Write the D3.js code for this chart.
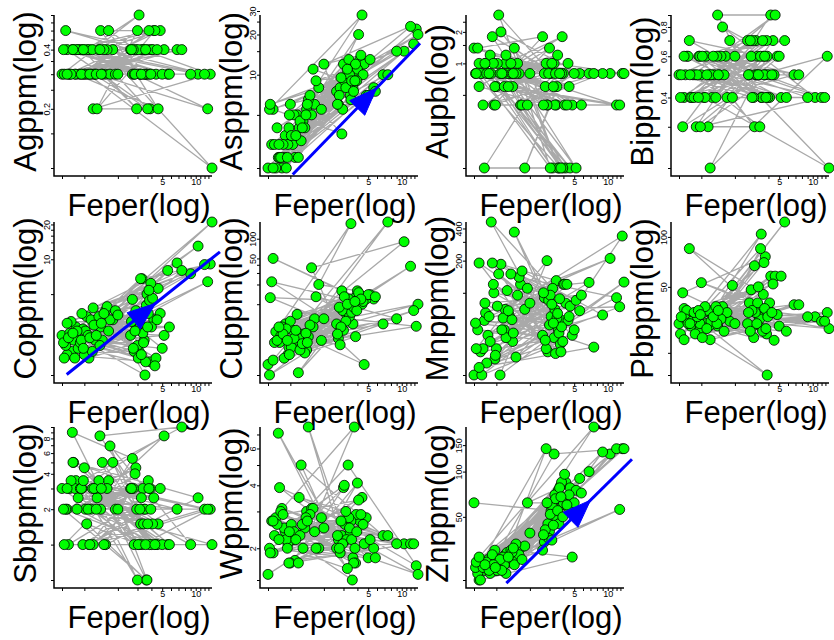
<!DOCTYPE html>
<html>
<head>
<meta charset="utf-8">
<script src="https://cdn.jsdelivr.net/npm/d3@7"></script>
<style>
  body { margin: 0; background: #fff; }
  svg { display: block; }
</style>
</head>
<body>
<div id="chart"></div>
<script>
// Fe (percent) of every sample, in sample order; the grey lines follow this order
const fePct = [
  0.63, 3.1, 1.05, 3.6, 0.78, 2.7, 1.4, 4.2,
  0.9, 3.3, 13.5, 1.2, 3.9, 0.7, 2.9, 1.65,
  4.6, 0.84, 3.45, 1.1, 5.6, 0.95, 3.0, 1.3,
  3.75, 0.68, 2.6, 1.55, 10.5, 0.8, 3.2, 1.0,
  4.0, 1.8, 3.5, 0.74, 2.8, 1.25, 6.8, 0.88,
  3.35, 1.15, 4.4, 0.65, 3.65, 1.45, 2.95, 0.97,
  12.0, 1.6, 3.05, 0.72, 4.8, 1.35, 3.85, 0.82,
  2.75, 1.02, 5.2, 0.92, 3.4, 1.7, 9.0, 0.76,
  3.15, 1.18, 4.1, 0.86, 3.55, 1.5, 14.0, 1.08,
  2.85, 0.66, 4.5, 1.22, 3.7, 1.9, 5.0, 0.94,
  3.25, 1.38, 7.5, 0.7, 3.95, 1.12, 2.65, 2.0,
  4.3, 0.98, 12.8, 1.28, 3.8, 0.79, 5.8, 1.42
];

const agPpm = [
  0.3, 0.6, 0.4, 0.3, 0.4, 0.3, 0.5, 0.5,
  0.3, 0.4, 0.3, 0.2, 0.2, 0.4, 0.4, 0.5,
  0.2, 0.3, 0.4, 0.4, 0.3, 0.3, 0.5, 0.2,
  0.4, 0.5, 0.4, 0.3, 0.3, 0.4, 0.3, 0.3,
  0.4, 0.4, 0.3, 0.3, 0.3, 0.3, 0.4, 0.4,
  0.4, 0.3, 0.3, 0.4, 0.3, 0.3, 0.2, 0.4,
  0.3, 0.4, 0.4, 0.3, 0.5, 0.4, 0.3, 0.3,
  0.4, 0.3, 0.4, 0.4, 0.3, 0.3, 0.3, 0.3,
  0.3, 0.4, 0.4, 0.4, 0.4, 0.4, 0.1, 0.3,
  0.3, 0.3, 0.4, 0.3, 0.2, 0.3, 0.3, 0.3,
  0.3, 0.4, 0.4, 0.3, 0.3, 0.3, 0.4, 0.3,
  0.5, 0.4, 0.2, 0.3, 0.5, 0.4, 0.3, 0.3
];

const asPpm = [
  2.0, 9, 3.0, 11, 2.4, 6, 5.5, 13,
  3.5, 8, 22, 4, 10, 5.5, 3.6, 6,
  12, 2.0, 7, 2.4, 8, 3.0, 12, 4.5,
  9, 3.0, 7.5, 5, 15, 2.4, 10, 6,
  11, 8, 6.5, 2.0, 8, 3.2, 10, 2.4,
  13, 5, 28, 5.5, 8, 6.5, 5.5, 4,
  23, 11, 9, 3.0, 7, 4, 12, 2.4,
  7, 3.5, 13, 2.0, 10, 9, 15, 4,
  8, 2.4, 20, 3.0, 9, 7, 20, 5,
  9.5, 6, 10, 4.5, 7.5, 5.5, 7, 2.4,
  11, 5, 10, 2.0, 9, 3.5, 6, 12,
  14, 5, 17, 4, 9, 3.0, 7.5, 6
];

const auPpb = [
  1.4, 0.8, 2.9, 0.1, 0.1, 0.8, 0.6, 0.1,
  0.8, 1.0, 0.8, 1.0, 1.8, 0.6, 0.4, 0.4,
  0.1, 0.8, 0.4, 2.0, 0.8, 0.4, 1.4, 0.8,
  0.8, 1.4, 1.8, 1.0, 0.8, 1.0, 0.1, 0.6,
  0.8, 0.1, 0.6, 0.8, 1.0, 0.8, 0.8, 1.2,
  0.4, 0.8, 1.0, 0.8, 0.1, 1.4, 0.8, 0.6,
  0.4, 0.8, 0.1, 0.8, 0.4, 1.0, 0.8, 0.8,
  0.6, 1.0, 0.1, 1.8, 0.8, 0.4, 0.8, 0.4,
  1.0, 0.6, 0.4, 0.8, 1.2, 0.8, 0.8, 0.8,
  0.4, 0.8, 0.6, 1.2, 0.8, 0.4, 0.8, 1.0,
  0.6, 0.8, 0.8, 1.0, 0.1, 0.8, 0.4, 0.8,
  0.4, 0.4, 0.4, 0.6, 0.1, 1.0, 0.4, 0.8
];

const biPpm = [
  0.5, 0.7, 0.4, 0.6, 0.7, 0.5, 0.9, 0.9,
  0.3, 0.5, 0.6, 0.2, 0.6, 0.4, 0.7, 0.6,
  0.9, 0.5, 0.4, 0.6, 0.7, 0.6, 0.3, 0.5,
  0.5, 0.3, 0.7, 0.8, 0.4, 0.4, 0.6, 0.5,
  0.5, 0.7, 0.4, 0.6, 0.6, 0.4, 0.5, 0.5,
  0.3, 0.3, 0.7, 0.4, 0.5, 0.5, 0.4, 0.6,
  0.4, 0.5, 0.5, 0.5, 0.6, 0.4, 0.7, 0.4,
  0.7, 0.6, 0.4, 0.5, 0.6, 0.4, 0.4, 0.6,
  0.5, 0.5, 0.4, 0.4, 0.7, 0.6, 0.2, 0.4,
  0.4, 0.5, 0.5, 0.5, 0.6, 0.4, 0.6, 0.4,
  0.5, 0.6, 0.5, 0.6, 0.4, 0.5, 0.5, 0.6,
  0.5, 0.3, 0.4, 0.6, 0.4, 0.5, 0.4, 0.5
];

const coPpm = [
  2.2, 1.6, 3.2, 4.0, 1.6, 4.5, 2.6, 3.0,
  2.0, 6.8, 9.1, 3.8, 1.3, 1.5, 3.6, 2.4,
  5.6, 2.6, 2.0, 1.4, 8.0, 3.4, 1.8, 3.0,
  3.4, 1.8, 2.2, 3.6, 13, 2.0, 6.8, 1.5,
  2.6, 3.0, 1.0, 2.3, 1.6, 2.0, 9.3, 1.7,
  2.3, 3.0, 1.4, 1.9, 5.0, 2.0, 2.6, 2.5,
  9.0, 3.9, 1.4, 2.1, 3.4, 3.2, 4.4, 1.4,
  1.7, 2.4, 2.2, 1.9, 1.9, 3.0, 7.5, 2.9,
  2.8, 1.6, 4.6, 2.4, 1.3, 3.4, 21, 2.2,
  2.4, 1.4, 3.0, 2.7, 2.6, 3.6, 1.7, 2.0,
  1.5, 1.8, 8.0, 2.8, 6.2, 2.1, 2.9, 3.3,
  1.2, 1.7, 6.4, 2.2, 5.4, 2.3, 2.6, 2.8
];

const cuPpm = [
  1.2, 8, 4, 10, 3.5, 3.0, 2.0, 14,
  5, 6, 4.6, 2.4, 13, 50, 16, 6,
  1.2, 4.5, 9, 2.8, 12, 1.7, 4, 3.5,
  11, 22, 5, 36, 90, 2.6, 7, 5.5,
  16, 20, 170, 3.8, 2.4, 3.0, 5, 1.5,
  12, 7, 10, 0.83, 5, 3.2, 8, 2.2,
  38, 4.5, 13, 2.6, 12, 1.8, 3.2, 3.3,
  9, 2.2, 14, 4.2, 6.5, 13, 6, 2.8,
  5.5, 0.9, 15, 3.5, 7.5, 4.8, 10, 3.0,
  4.5, 12.6, 11, 2.0, 9, 2.8, 14, 2.8,
  10, 3.6, 180, 1.4, 8, 4.0, 3.5, 6,
  12, 1.7, 8, 2.5, 11, 4.5, 13, 2.6
];

const mnPpm = [
  17, 60, 150, 45, 55, 90, 35, 80,
  460, 38, 340, 70, 55, 190, 28, 120,
  75, 40, 130, 185, 68, 100, 50, 62,
  33, 45, 40, 95, 210, 65, 110, 30,
  120, 70, 58, 17, 30, 105, 125, 35,
  70, 58, 55, 52, 42, 370, 85, 24,
  90, 140, 95, 28, 40, 150, 48, 22,
  36, 75, 85, 190, 27, 160, 62, 30,
  78, 45, 120, 60, 64, 25, 126, 17,
  200, 30, 60, 38, 88, 110, 45, 120,
  52, 56, 31, 20, 35, 45, 100, 80,
  120, 26, 74, 68, 28, 80, 95, 42
];

const pbPpm = [
  30, 36, 35, 45, 85, 40, 29, 58,
  28, 33, 35, 24, 14.7, 37, 29, 33,
  58, 32, 104, 30, 123, 27, 67, 31,
  76, 46, 30, 38, 33, 29, 40, 53,
  36, 31, 28, 36, 48, 34, 39, 26,
  32, 36, 52, 26, 70, 33, 24.7, 30,
  31, 27, 35, 32, 34, 38, 26, 31,
  27, 24.7, 58, 33, 85, 35, 33, 30,
  30, 29, 40, 35, 27, 32, 28, 38,
  36, 33, 23.8, 31, 37, 51, 29, 36,
  50, 30, 39, 24, 33, 28, 35, 30,
  35, 34, 31, 33, 28, 30, 27, 36
];

const sbPpm = [
  3.0, 1.0, 1.5, 0.5, 9.0, 5.4, 2.0, 2.5,
  3.0, 1.0, 2.0, 1.0, 3.0, 2.0, 4.5, 3.5,
  1.5, 3.5, 2.0, 1.0, 1.0, 3.0, 0.5, 2.5,
  3.5, 2.0, 3.0, 1.0, 2.5, 5.0, 1.5, 4.5,
  1.0, 5.0, 2.0, 3.0, 1.0, 3.0, 2.0, 2.5,
  3.0, 2.0, 1.0, 2.0, 0.5, 5.0, 2.0, 1.0,
  2.0, 3.0, 1.0, 1.0, 3.0, 3.5, 1.0, 3.0,
  3.0, 2.0, 8.4, 3.0, 1.5, 6.9, 1.0, 3.5,
  2.0, 3.0, 1.5, 2.0, 1.0, 1.0, 1.0, 2.0,
  4.0, 1.0, 1.0, 3.0, 1.5, 2.0, 1.0, 3.0,
  2.5, 8.4, 10, 3.0, 2.0, 1.0, 3.0, 2.0,
  1.0, 3.5, 2.0, 2.0, 3.0, 5.0, 1.0, 3.0
];

const wPpm = [
  1.5, 2.6, 2.2, 1.41, 7.1, 2.2, 3.0, 2.7,
  2.4, 5.0, 1.65, 3.5, 2.9, 1.9, 2.3, 2.4,
  2.1, 3.1, 2.4, 1.75, 2.0, 2.1, 3.9, 2.0,
  7.6, 2.7, 2.0, 3.1, 2.1, 3.9, 2.2, 1.7,
  4.1, 2.0, 2.7, 2.8, 1.9, 5.0, 2.3, 2.5,
  2.8, 2.3, 3.5, 2.0, 1.8, 7.6, 2.1, 1.7,
  2.1, 3.1, 4.0, 2.3, 2.8, 2.5, 1.7, 3.0,
  2.0, 2.6, 2.2, 2.2, 2.5, 2.0, 2.1, 2.6,
  3.0, 1.7, 3.4, 2.9, 2.2, 2.9, 1.5, 2.4,
  2.7, 1.9, 2.6, 2.3, 1.7, 2.8, 1.8, 2.0,
  1.6, 2.8, 2.3, 2.7, 2.4, 2.2, 2.3, 2.5,
  2.9, 2.4, 2.1, 2.6, 2.0, 2.2, 1.8, 2.7
];

const znPpm = [
  62, 55, 25, 75, 22, 34, 27, 85,
  24, 131, 142, 28, 60, 19, 45, 31,
  78, 26, 50, 23, 90, 27, 40, 25,
  80, 21, 30, 26, 131, 24, 58, 22,
  62, 32, 48, 25, 142, 29, 100, 21,
  70, 27, 58, 23, 45, 24, 36, 30,
  142, 28, 52, 19, 27, 30, 85, 25,
  41, 22, 75, 28, 66, 26, 135, 23,
  35, 24, 96, 22, 55, 33, 142, 26,
  62, 25, 70, 21, 78, 62, 62, 24,
  44, 29, 198, 27, 50, 22, 38, 39,
  60, 23, 56, 27, 68, 24, 72, 31
];

const yTitles = ["Agppm(log)", "Asppm(log)", "Aupb(log)", "Bippm(log)",
  "Coppm(log)", "Cuppm(log)", "Mnppm(log)", "Pbppm(log)",
  "Sbppm(log)", "Wppm(log)", "Znppm(log)"];
const yValues = [agPpm, asPpm, auPpb, biPpm, coPpm, cuPpm, mnPpm, pbPpm, sbPpm, wPpm, znPpm];

// tick marks and labelled ticks of every y axis
const yTicks = [
  [0.1, 0.15, 0.2, 0.25, 0.3, 0.35, 0.4, 0.45, 0.5, 0.55, 0.6],
  [2, 5, 10, 15, 20, 25],
  [0.1, 0.5, 1, 1.5, 2, 2.5],
  [0.2, 0.3, 0.4, 0.5, 0.6, 0.7, 0.8, 0.9],
  [1, 5, 10, 12, 14, 16, 18, 20],
  [0.83, 10, 20, 30, 40, 50, 100],
  [17, 100, 200, 300, 400],
  [14.7, 20, 50, 100],
  [0.5, 1, 2, 3, 4, 5, 6, 7, 8, 9, 10],
  [1.41, 2, 3, 4, 5, 6, 7],
  [19, 50, 100, 150]
];
const yTickLabels = [
  [0.2, 0.4], [10, 20, 30], [1, 2], [0.4, 0.6, 0.8],
  [10, 20], [50, 100], [200, 400], [50, 100],
  [2, 4, 6, 8], [2, 4, 6], [50, 100, 150]
];
const xTicks = [0.63, 1, 2, 3, 4, 5, 6, 7, 8, 9, 10, 11, 12, 13];
const xTickLabels = [5, 10];

// blue trend arrows: start (Fe, value), end (Fe, value), head position along the line
const trendPanels = [1, 4, 10];
const trendStart = [[1.05, 1.79], [0.694, 1.01], [1.23, 18.1]];
const trendEnd = [[14.6, 17.2], [16.5, 11.6], [16.5, 120.8]];
const trendHeadAt = [0.66, 0.58, 0.67];

const width = 834, height = 640;
const colX = [54, 260, 466, 671];
const rowY = [15, 222, 427];
const plotW = 158, plotH = 161, inset = 8;
const font = "'Liberation Sans', Arial, Helvetica, sans-serif";

const svg = d3.select("#chart").append("svg")
  .attr("width", width)
  .attr("height", height);

const fmt = d => String(d);

yValues.forEach((vals, i) => {
  const col = i % 4, row = Math.floor(i / 4);
  const x0 = colX[col], y0 = rowY[row];

  const x = d3.scaleLog().domain(d3.extent(fePct)).range([x0 + inset, x0 + plotW]);
  const y = d3.scaleLog().domain(d3.extent(vals)).range([y0 + plotH - inset, y0]);

  const g = svg.append("g").attr("class", "panel");

  // x axis ticks, only 5 and 10 get a label
  const xAxis = g.append("g")
    .attr("transform", `translate(0,${y0 + plotH})`)
    .call(d3.axisBottom(x).tickValues(xTicks).tickSize(3)
      .tickFormat(d => xTickLabels.includes(d) ? fmt(d) : ""));
  xAxis.select(".domain").remove();
  xAxis.selectAll("line").attr("stroke", "#000").attr("stroke-width", 1);
  xAxis.selectAll("text").filter(function () { return this.textContent === ""; }).remove();
  xAxis.selectAll("text")
    .attr("font-family", font).attr("font-size", 9).attr("fill", "#000")
    .attr("y", 9).attr("dy", null);

  // y axis ticks, labels rotated along the axis
  const labs = yTickLabels[i];
  const yAxis = g.append("g")
    .attr("transform", `translate(${x0},0)`)
    .call(d3.axisLeft(y).tickValues(yTicks[i].concat(labs.filter(l => !yTicks[i].includes(l))))
      .tickSize(3).tickFormat(d => labs.includes(d) ? fmt(d) : ""));
  yAxis.select(".domain").remove();
  yAxis.selectAll("line").attr("stroke", "#000").attr("stroke-width", 1);
  yAxis.selectAll("text").filter(function () { return this.textContent === ""; }).remove();
  yAxis.selectAll("text")
    .attr("font-family", font).attr("font-size", 9).attr("fill", "#000")
    .attr("x", 0).attr("y", -4.5).attr("dy", null)
    .attr("text-anchor", "middle")
    .attr("transform", "rotate(-90)");

  // L-shaped frame
  g.append("path")
    .attr("d", `M${x0},${y0}V${y0 + plotH}H${x0 + plotW}`)
    .attr("fill", "none")
    .attr("stroke", "#000")
    .attr("stroke-width", 1.5);

  // grey lines joining samples in order
  const idx = d3.range(fePct.length);
  g.append("path")
    .datum(idx)
    .attr("fill", "none")
    .attr("stroke", "#a9a9a9")
    .attr("stroke-width", 1.3)
    .attr("stroke-linejoin", "round")
    .attr("d", d3.line().x(k => x(fePct[k])).y(k => y(vals[k])));

  g.append("g")
    .selectAll("circle")
    .data(idx)
    .join("circle")
    .attr("cx", k => x(fePct[k]))
    .attr("cy", k => y(vals[k]))
    .attr("r", 5)
    .attr("fill", "#00ff00")
    .attr("stroke", "#000")
    .attr("stroke-width", 0.8);

  // trend arrow
  const t = trendPanels.indexOf(i);
  if (t >= 0) {
    const p1 = [x(trendStart[t][0]), y(trendStart[t][1])];
    const p2 = [x(trendEnd[t][0]), y(trendEnd[t][1])];
    g.append("line")
      .attr("x1", p1[0]).attr("y1", p1[1])
      .attr("x2", p2[0]).attr("y2", p2[1])
      .attr("stroke", "#0000ff")
      .attr("stroke-width", 3);
    const len = Math.hypot(p2[0] - p1[0], p2[1] - p1[1]);
    const ux = (p2[0] - p1[0]) / len, uy = (p2[1] - p1[1]) / len;
    const tip = [p1[0] + ux * len * trendHeadAt[t], p1[1] + uy * len * trendHeadAt[t]];
    const headL = 28, headW = 10.5;
    const base = [tip[0] - ux * headL, tip[1] - uy * headL];
    g.append("path")
      .attr("d", `M${tip[0]},${tip[1]}L${base[0] - uy * headW},${base[1] + ux * headW}L${base[0] + uy * headW},${base[1] - ux * headW}Z`)
      .attr("fill", "#0000ff")
      .attr("stroke", "#0000ff")
      .attr("stroke-width", 1);
  }

  // axis titles
  g.append("text")
    .attr("x", x0 + plotW / 2 + 6)
    .attr("y", y0 + plotH + 39.5)
    .attr("text-anchor", "middle")
    .attr("font-family", font)
    .attr("font-size", 31)
    .text("Feper(log)");

  g.append("text")
    .attr("transform", `translate(${x0 - 18},${y0 + plotH / 2 - 4}) rotate(-90)`)
    .attr("text-anchor", "middle")
    .attr("font-family", font)
    .attr("font-size", 31)
    .text(yTitles[i]);
});
</script>
</body>
</html>
